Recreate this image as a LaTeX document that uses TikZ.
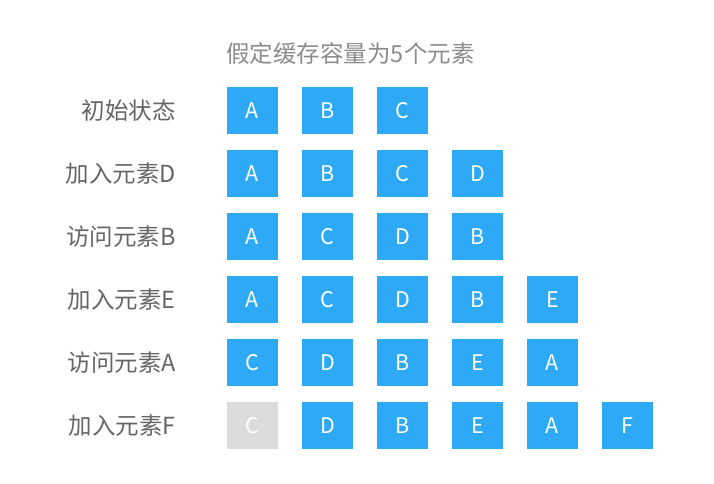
\documentclass[tikz,border=0pt]{standalone}
\usepackage{fontspec}
\setmainfont{Noto Sans CJK SC}
\definecolor{blu}{HTML}{2EA9F5}
\definecolor{gbox}{HTML}{DCDCDC}
\definecolor{lbl}{HTML}{666666}
\definecolor{ttl}{HTML}{8C8C8C}
\begin{document}
\begin{tikzpicture}[x=1pt,y=-1pt,
  cell/.style={fill=blu,minimum width=51pt,minimum height=47pt,inner sep=0pt,text=white,font=\fontsize{21.5}{24}\selectfont},
  gcell/.style={cell,fill=gbox},
  lab/.style={anchor=east,text=lbl,inner sep=0pt,font=\fontsize{23.5}{26}\selectfont}]
\path[use as bounding box,fill=white] (0,0) rectangle (714,483);
\node[text=ttl,font=\fontsize{23.5}{28}\selectfont] (title) at (350.5,54) {假定缓存容量为5个元素};
\foreach \r/\lt/\cells in {1/初始状态/{A,B,C},2/加入元素D/{A,B,C,D},3/访问元素B/{A,C,D,B},4/加入元素E/{A,C,D,B,E},5/访问元素A/{C,D,B,E,A},6/加入元素F/{C,D,B,E,A,F}}{
  \pgfmathsetmacro{\yy}{110.5+63*(\r-1)}
  \node[lab] (l\r) at (176,\yy) {\lt};
  \foreach \c [count=\i] in \cells {
    \ifnum\r=6 \ifnum\i=1
      \node[gcell] (c\r\i) at ({252.5+75*(\i-1)},\yy) {\c};
    \else
      \node[cell] (c\r\i) at ({252.5+75*(\i-1)},\yy) {\c};
    \fi\else
      \node[cell] (c\r\i) at ({252.5+75*(\i-1)},\yy) {\c};
    \fi
  }
}
\end{tikzpicture}
\end{document}
